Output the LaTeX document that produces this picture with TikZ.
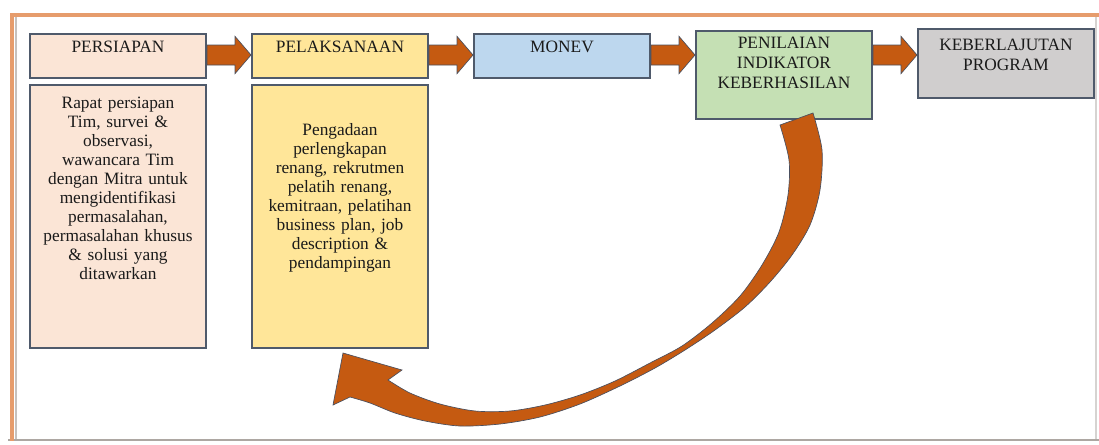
\documentclass[tikz,border=0pt]{standalone}
\usepackage{fontspec}
\setmainfont{Liberation Serif}
\usetikzlibrary{positioning, calc}

\definecolor{pinkbox}{HTML}{FBE5D6}
\definecolor{yellowbox}{HTML}{FFE699}
\definecolor{bluebox}{HTML}{BDD7EE}
\definecolor{greenbox}{HTML}{C5E0B4}
\definecolor{greybox}{HTML}{D0CECE}
\definecolor{boxline}{HTML}{4F5A6B}
\definecolor{textdark}{HTML}{1A1A1A}
\definecolor{arrowfill}{HTML}{C55A11}
\definecolor{arrowline}{HTML}{4A4F5E}
\definecolor{frameorange}{HTML}{E69C6C}
\definecolor{framegrey}{HTML}{ADA7A2}

% block arrow between two stages, on the row of the arrows
\newcommand{\blockarrow}[2]{%
  \path[bigarrow] let \p1 = (#1.east |- arrowrow), \p2 = (#2.west |- arrowrow) in
    (\x1, \y1 + 7.5pt) -- (\x2 - 12pt, \y1 + 7.5pt) -- (\x2 - 12pt, \y1 + 14pt)
    -- (\x2, \y1) -- (\x2 - 12pt, \y1 - 14pt) -- (\x2 - 12pt, \y1 - 7.5pt)
    -- (\x1, \y1 - 7.5pt) -- cycle;}

\begin{document}
\begin{tikzpicture}[
                x = 0.75pt, y = -0.75pt, % one unit is one pixel, y downwards
                semithick % line style
            ]

            \tikzstyle{stage}=[draw = boxline, line width = 1.5pt, rectangle,
            anchor = north west, text width = 128pt, inner xsep = 2pt,
            inner ysep = 4pt, align = center, text = textdark,
            font = \fontsize{13}{15}\selectfont]
            \tikzstyle{body}=[stage, font = \fontsize{13}{14.3}\selectfont]
            \tikzstyle{bigarrow}=[fill = arrowfill, draw = arrowline,
            line width = 0.5pt]

            \useasboundingbox (0,0) rectangle (1099,444);

            % frame
            \draw[framegrey!50, line width = 1.5pt] (1096,15) -- (1096,440);
            \draw[framegrey, line width = 2pt] (8,440) -- (1099,440);
            \draw[frameorange, line width = 3.5pt] (1099,15) -- (12,15) -- (12,441);
            \draw[framegrey!70, line width = 0.8pt] (16,17) -- (16,439);

            \coordinate (arrowrow) at (0,55);

            \node[stage, fill = pinkbox, text height = 10pt, text depth = 15pt]
            (persiapan) at (29,33) {PERSIAPAN};
            \node[stage, fill = yellowbox, text height = 10pt, text depth = 15pt,
            right = 33pt of persiapan.north east, anchor = north west]
            (pelaksanaan) {PELAKSANAAN};
            \node[stage, fill = bluebox, text height = 9.5pt, text depth = 15.5pt,
            right = 33pt of pelaksanaan.north east, anchor = north west]
            (monev) {MONEV};
            \node[stage, fill = greenbox, text height = 9.3pt, text depth = 48.7pt,
            right = 33pt of monev.north east, anchor = north west, yshift = 2.25pt]
            (penilaian) {PENILAIAN\\ INDIKATOR\\ KEBERHASILAN};
            \node[stage, fill = greybox, text height = 12pt, text depth = 31.7pt,
            right = 33pt of penilaian.north east, anchor = north west, yshift = 1.5pt]
            (keberlanjutan) {KEBERLAJUTAN\\ PROGRAM};

            \node[body, fill = pinkbox, text height = 13.3pt, text depth = 175.9pt,
            below = 3.75pt of persiapan.south west, anchor = north west]
            (persiapanisi) {Rapat persiapan\\ Tim, survei \&\\ observasi,\\
            wawancara Tim\\ dengan Mitra untuk\\ mengidentifikasi\\
            permasalahan,\\ permasalahan khusus\\ \& solusi yang\\ ditawarkan};
            \node[body, fill = yellowbox, text height = 33.5pt, text depth = 155.7pt,
            below = 3.75pt of pelaksanaan.south west, anchor = north west]
            (pelaksanaanisi) {Pengadaan\\ perlengkapan\\ renang, rekrutmen\\
            pelatih renang,\\ kemitraan, pelatihan\\ business plan, job\\
            description \&\\ pendampingan};

            \blockarrow{persiapan}{pelaksanaan}
            \blockarrow{pelaksanaan}{monev}
            \blockarrow{monev}{penilaian}
            \blockarrow{penilaian}{keberlanjutan}

            % curved arrow back to PELAKSANAAN
            \path[bigarrow] plot[smooth, tension = 0.5] coordinates {(813,113)
            (822,150) (820,190) (810,225) (792,255) (770,282) (745,307)
            (715,330) (685,350) (655,368) (620,386) (580,404) (540,417)
            (500,424) (460,426) (425,421) (395,413) (370,403) (350,397)}
            -- (333,405) -- (343,353) -- (402,370) -- plot[smooth,
            tension = 0.5] coordinates {(388,380) (410,393) (440,404) (475,411)
            (510,411) (545,405) (580,395) (615,381) (650,363) (682,346)
            (712,323) (740,296) (762,265) (779,232) (788,195) (789,160)
            (780,125)} -- cycle;

        \end{tikzpicture}
\end{document}
